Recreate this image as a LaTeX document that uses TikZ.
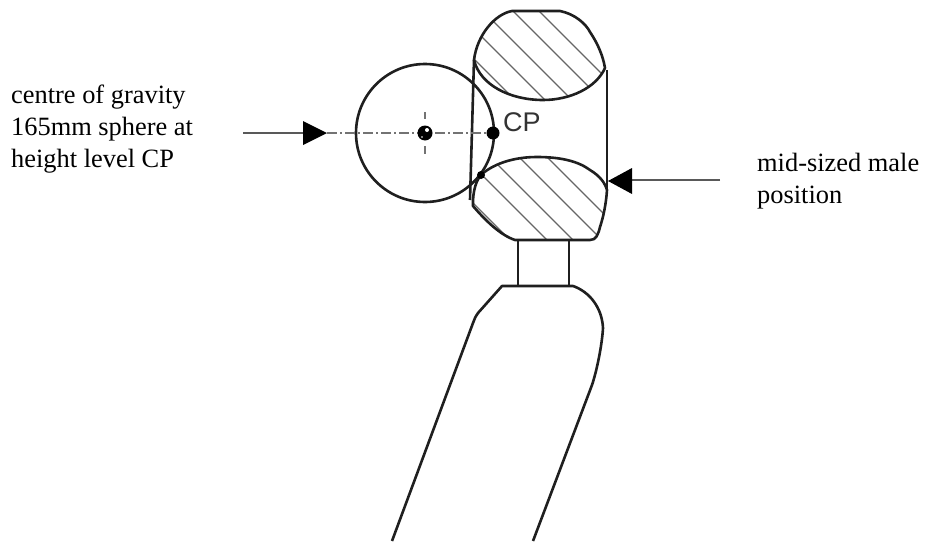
\documentclass[tikz,border=0pt]{standalone}
\usepackage{fontspec}
\setmainfont{Liberation Serif}
\setsansfont{Liberation Sans}
\begin{document}
\begin{tikzpicture}[x=1pt,y=-1pt,
  outline/.style={line width=2.6pt,draw=black!88,line join=round},
  hatchline/.style={line width=1.2pt,draw=black!60},
  leader/.style={line width=1.7pt,draw=black!65},
  axisline/.style={line width=1.7pt,draw=black!55,dash pattern=on 10pt off 3pt on 2pt off 3pt},
  tick/.style={line width=1.5pt,draw=black!55},
  label/.style={anchor=north west,inner sep=0pt,align=left,font=\fontsize{26.4}{32}\selectfont},
  headfill/.style={fill=black,draw=none}]
\useasboundingbox (0,0) rectangle (926,541);
\def\tophatch{(474,60) .. controls (477,35) and (495,14) .. (512,11) -- (560,11) .. controls (575,14) and (586,24) .. (590,32) .. controls (598,44) and (603,56) .. (605,68) .. controls (596,88) and (570,100) .. (543,100) .. controls (510,100) and (480,85) .. (474,60) -- cycle}
\def\bothatch{(473,200) .. controls (474,185) and (478,178) .. (482,174) .. controls (495,163) and (515,157) .. (537,157) .. controls (560,157) and (578,161) .. (590,170) .. controls (600,176) and (605,183) .. (607,190) .. controls (606,205) and (603,218) .. (600,227) .. controls (598,235) and (596,240) .. (590,240) -- (515,240) .. controls (500,235) and (485,220) .. (473,206) -- cycle}
% hatching
\begin{scope}
\clip \tophatch;
\foreach \c in {415,445,472,502,528} \draw[hatchline] (\c,0) -- (\c+130,130);
\end{scope}
\begin{scope}
\clip \bothatch;
\foreach \c in {270,307,333,362,390} \draw[hatchline] (\c+130,130) -- (\c+260,260);
\end{scope}
\draw[outline] \tophatch;
\draw[outline] \bothatch;
% cylinder sides
\draw[outline] (474,60) -- (470,200);
\draw[outline] (607,70) -- (607,190);
% sphere
\node[circle,draw=black!88,line width=2.6pt,minimum size=138pt,inner sep=0pt] (sphere) at (425,133) {};
% neck
\coordinate (nA) at (518,240); \coordinate (nB) at (518,285);
\coordinate (nC) at (569,240); \coordinate (nD) at (569,286);
\draw[outline] (nA) -- (nB);
\draw[outline] (nC) -- (nD);
% arm
\draw[outline] (392,541) -- (473,323) .. controls (475,318) and (476,315) .. (478,313) -- (502,286) -- (573,286) .. controls (590,292) and (602,308) .. (603,328) .. controls (602,345) and (597,370) .. (592,385) -- (533,541);
% centre line
\coordinate (axisL) at (327,133); \coordinate (axisR) at (490,133);
\draw[axisline] (axisL) -- (axisR);
\coordinate (vT) at (425,112); \coordinate (vB) at (425,154);
\draw[tick] (vT) -- (425,119);
\draw[tick] (425,146) -- (vB);
\node[circle,fill=black,minimum size=15pt,inner sep=0pt] (cog) at (425,133) {};
\fill[white] (427,130) circle (2pt);
\fill[white] (422,137) circle (0.9pt);
% points
\node[circle,fill=black,minimum size=13pt,inner sep=0pt] (cp) at (493,133) {};
\node[circle,fill=black,minimum size=8pt,inner sep=0pt] (pt) at (481,175) {};
\node[anchor=west,inner sep=0pt,font=\sffamily\fontsize{27}{27}\selectfont,text=black!80] (cplabel) at (503,122) {CP};
% arrows
\coordinate (lstart) at (243,133); \coordinate (lend) at (303,133);
\draw[leader] (lstart) -- (lend);
\path[headfill] (303,121) -- (327,133) -- (303,145) -- cycle;
\coordinate (rstart) at (720,180); \coordinate (rend) at (632,180);
\draw[leader] (rstart) -- (rend);
\path[headfill] (632,168) -- (608,181) -- (632,194) -- cycle;
% labels
\node[label] (t1) at (11,85) {centre of gravity\\165mm sphere at\\height level CP};
\node[label] (t2) at (757,153) {mid-sized male\\position};
\end{tikzpicture}
\end{document}
